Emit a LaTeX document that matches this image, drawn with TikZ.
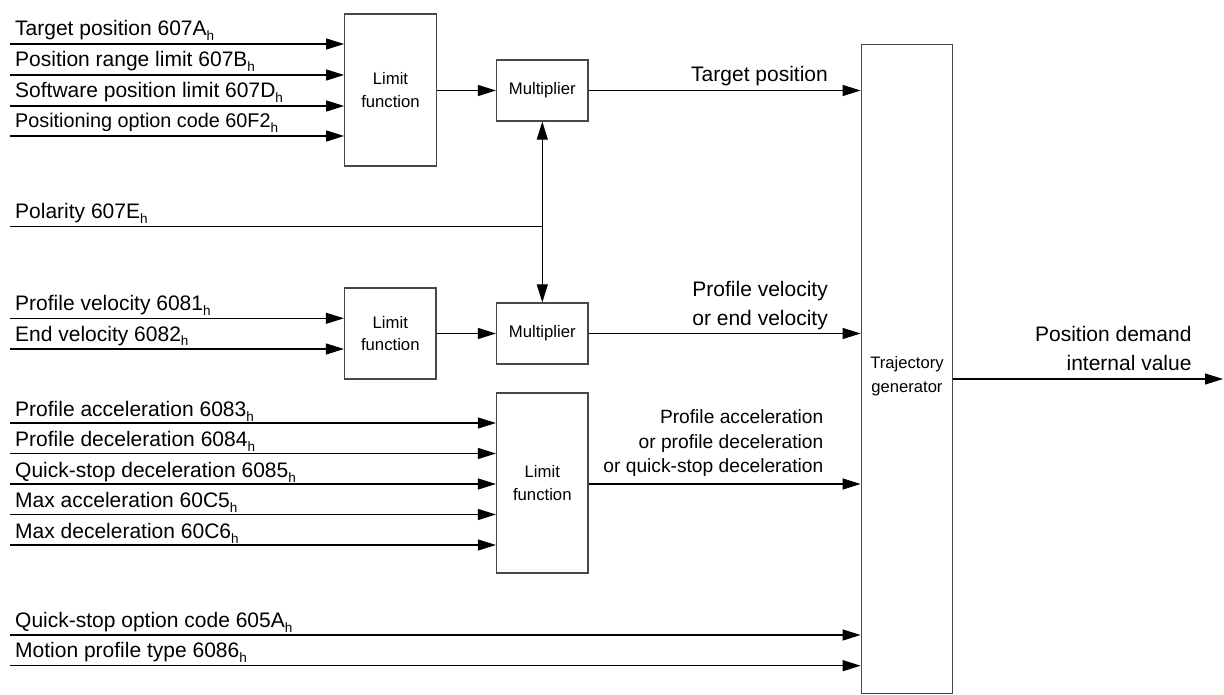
\documentclass[tikz,border=0pt]{standalone}
\usepackage{fontspec}
\setmainfont{Liberation Sans}
\usetikzlibrary{arrows.meta}
\newcommand\labfont{\fontsize{21}{25}\selectfont}
\newcommand\labsmfont{\fontsize{19.8}{24}\selectfont}
\newcommand\boxfont{\fontsize{16.7}{22.5}\selectfont}
\newcommand\trajfont{\fontsize{16.6}{24.4}\selectfont}
\newcommand\outfont{\fontsize{19.2}{23}\selectfont}
\newcommand\hsub{\raisebox{-5pt}{\fontsize{13.5}{13.5}\selectfont h}}
\begin{document}
\begin{tikzpicture}[x=1pt,y=-1pt,
  blk/.style={draw=black!72, line width=1.3pt, inner sep=0pt, align=center, font=\boxfont},
  arr/.style={-{Triangle[length=18pt,width=11pt]}, line width=1.2pt},
  ln/.style={line width=1.2pt},
  inlab/.style={anchor=base west, inner sep=0pt, font=\labfont},
  outlab/.style={anchor=base east, inner sep=0pt, font=\labfont},
  smlab/.style={anchor=base east, inner sep=0pt, font=\outfont}]
\useasboundingbox (0,0) rectangle (1224,695);

% blocks
\node[blk, minimum width=91.5pt, minimum height=152pt] (lim1) at (390.5,90) {Limit\\function};
\node[blk, minimum width=91.5pt, minimum height=61pt] (mul1) at (542.3,90.5) {Multiplier};
\node[blk, minimum width=91.5pt, minimum height=91pt] (lim2) at (390.3,333.5) {Limit\\function};
\node[blk, minimum width=91.5pt, minimum height=61pt] (mul2) at (542.3,333.5) {Multiplier};
\node[blk, minimum width=91.5pt, minimum height=180pt] (lim3) at (542.3,483) {Limit\\function};
\node[blk, minimum width=91.5pt, minimum height=649pt] (traj) at (907,368.7) {};
\node[inner sep=0pt, font=\trajfont, align=center] (trajt) at (907,376) {Trajectory\\generator};

% input coordinates
\coordinate (a1) at (10,44);
\coordinate (a2) at (10,75);
\coordinate (a3) at (10,106);
\coordinate (a4) at (10,136);
\coordinate (p) at (10,226.7);
\coordinate (j) at (542.3,226.7);
\coordinate (v1) at (10,318.3);
\coordinate (v2) at (10,349);
\coordinate (c1) at (10,423);
\coordinate (c2) at (10,453.5);
\coordinate (c3) at (10,484);
\coordinate (c4) at (10,514.5);
\coordinate (c5) at (10,545);
\coordinate (q1) at (10,635);
\coordinate (q2) at (10,665.7);
\coordinate (out) at (1223,379);

% input arrows
\foreach \c in {a1,a2,a3,a4} \draw[arr] (\c) -- (lim1.west |- \c);
\foreach \c in {v1,v2} \draw[arr] (\c) -- (lim2.west |- \c);
\foreach \c in {c1,c2,c3,c4,c5} \draw[arr] (\c) -- (lim3.west |- \c);
\foreach \c in {q1,q2} \draw[arr] (\c) -- (traj.west |- \c);

% polarity
\draw[ln] (p) -- (j);
\draw[arr] (j) -- (mul1.south);
\draw[arr] (j) -- (mul2.north);

% internal connections
\draw[arr] (lim1.east |- mul1.west) -- (mul1.west);
\draw[arr] (lim2.east |- mul2.west) -- (mul2.west);
\draw[arr] (mul1.east) -- (traj.west |- mul1.east);
\draw[arr] (mul2.east) -- (traj.west |- mul2.east);
\draw[arr] (lim3.east |- c3) -- (traj.west |- c3);
\draw[arr] (traj.east |- out) -- (out);

% input labels
\node[inlab] (la1) at (15,36) {Target position 607A\hsub};
\node[inlab] (la2) at (15,67) {Position range limit 607B\hsub};
\node[inlab] (la3) at (15,98) {Software position limit 607D\hsub};
\node[inlab, font=\labsmfont] (la4) at (15,128) {Positioning option code 60F2\hsub};
\node[inlab] (lp) at (15,218.7) {Polarity 607E\hsub};
\node[inlab] (lv1) at (15,310.3) {Profile velocity 6081\hsub};
\node[inlab] (lv2) at (15,341) {End velocity 6082\hsub};
\node[inlab] (lc1) at (15,416) {Profile acceleration 6083\hsub};
\node[inlab] (lc2) at (15,446.5) {Profile deceleration 6084\hsub};
\node[inlab] (lc3) at (15,477) {Quick-stop deceleration 6085\hsub};
\node[inlab] (lc4) at (15,507.5) {Max acceleration 60C5\hsub};
\node[inlab] (lc5) at (15,538) {Max deceleration 60C6\hsub};
\node[inlab] (lq1) at (15,627) {Quick-stop option code 605A\hsub};
\node[inlab] (lq2) at (15,657.7) {Motion profile type 6086\hsub};

% output labels
\node[outlab] (ot) at (828,82) {Target position};
\node[outlab] (ov1) at (828,296.7) {Profile velocity};
\node[outlab] (ov2) at (828,325) {or end velocity};
\node[smlab] (oc1) at (823.5,423.3) {Profile acceleration};
\node[smlab] (oc2) at (823.5,448) {or profile deceleration};
\node[smlab] (oc3) at (823.5,472.5) {or quick-stop deceleration};
\node[outlab] (od1) at (1191.7,341.7) {Position demand};
\node[outlab] (od2) at (1191.7,370) {internal value};
\end{tikzpicture}
\end{document}
